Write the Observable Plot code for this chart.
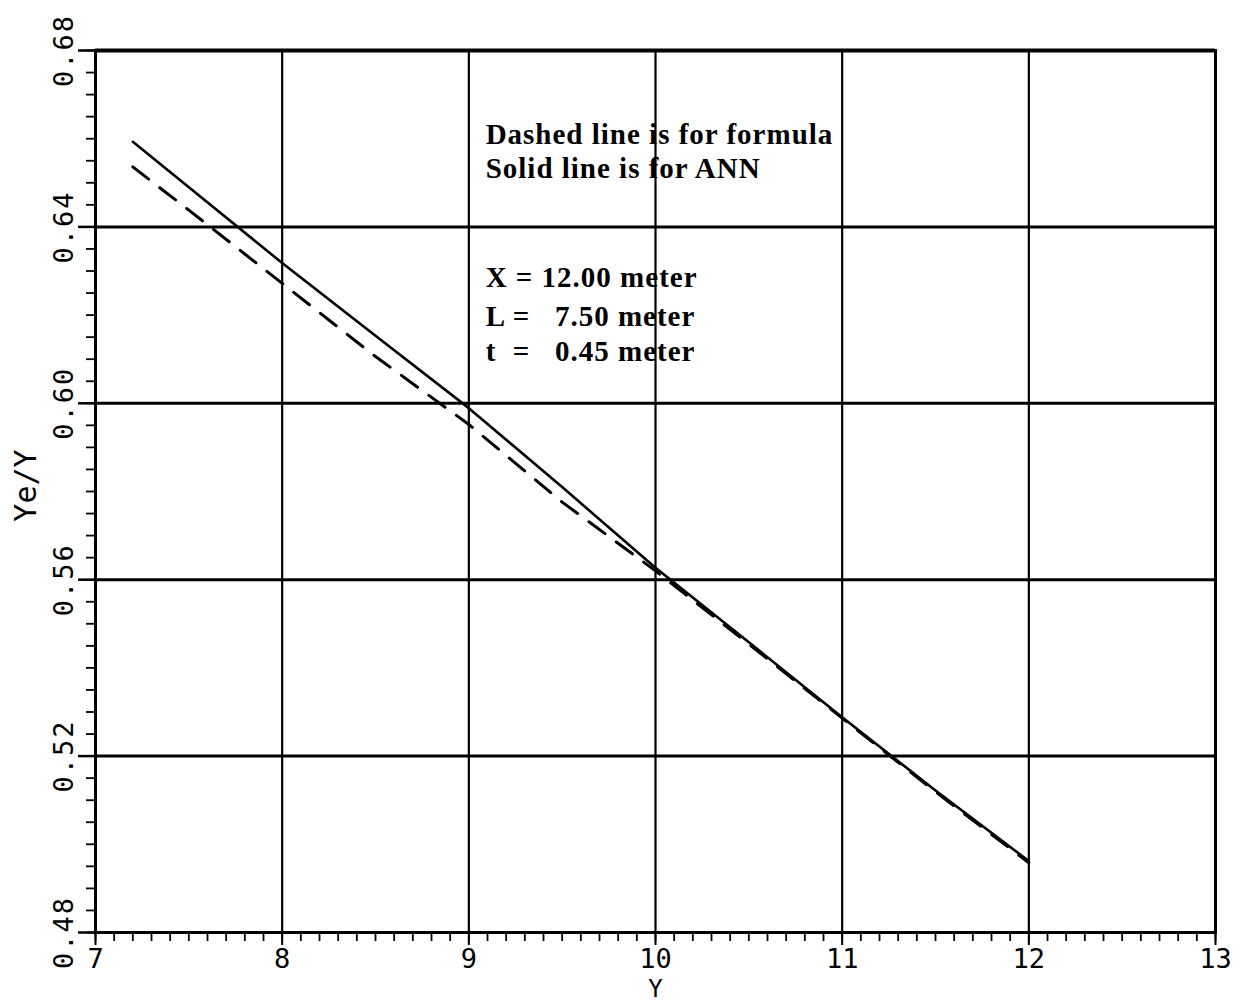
<!DOCTYPE html>
<html>
<head>
<meta charset="utf-8">
<script src="https://cdn.jsdelivr.net/npm/d3@7"></script>
<script src="https://cdn.jsdelivr.net/npm/@observablehq/plot@0.6"></script>
<style>
  html, body { margin: 0; padding: 0; background: #fff; }
  svg text { white-space: pre; }
</style>
</head>
<body>
<div id="chart"></div>
<script>
// ---- data ----
const yValues = [7.2, 7.5, 8, 8.5, 9, 9.5, 10, 10.5, 11, 11.5, 12];
const annRatio = [0.6593, 0.6490, 0.6318, 0.6153, 0.5989, 0.5810, 0.5627, 0.5458, 0.5288, 0.5122, 0.4962];
const formulaRatio = [0.6536, 0.6438, 0.6272, 0.6106, 0.5952, 0.5776, 0.5620, 0.5454, 0.5286, 0.5119, 0.4958];

const xTicks = [7, 8, 9, 10, 11, 12, 13];
const xTickLabels = ["7", "8", "9", "10", "11", "12", "13"];
const yTicks = [0.48, 0.52, 0.56, 0.60, 0.64, 0.68];
const yTickLabels = ["0.48", "0.52", "0.56", "0.60", "0.64", "0.68"];
const xGrid = [8, 9, 10, 11, 12];
const yGrid = [0.52, 0.56, 0.60, 0.64];
const xMinor = d3.ticks(7, 13, 60);
const yMinor = d3.ticks(0.48, 0.68, 50);

const xTitle = "Y";
const yTitle = "Ye/Y";
const noteLines = ["Dashed line is for formula", "Solid line is for ANN", "X = 12.00 meter", "L =   7.50 meter", "t  =   0.45 meter"];
const noteY = [0.6589, 0.6510, 0.6263, 0.6176, 0.6097];
const noteX = 9.09;

const ann = yValues.map((y, i) => ({x: y, r: annRatio[i]}));
const formula = yValues.map((y, i) => ({x: y, r: formulaRatio[i]}));
const notes = noteLines.map((t, i) => ({t, x: noteX, y: noteY[i]}));

const tickFont = "DejaVu Sans Mono";

const chart = Plot.plot({
  width: 1245,
  height: 1005,
  marginLeft: 95,
  marginRight: 30,
  marginTop: 50,
  marginBottom: 73,
  style: {background: "#fff", color: "#000", fontFamily: tickFont},
  x: {domain: [7, 13], axis: null},
  y: {domain: [0.48, 0.68], axis: null},
  marks: [
    // grid
    Plot.ruleX(xGrid, {x: d => d, stroke: "#000", strokeWidth: 2.2}),
    Plot.ruleY(yGrid, {y: d => d, stroke: "#000", strokeWidth: 3}),
    // minor ticks
    Plot.axisX({anchor: "bottom", ticks: xMinor, tickSize: 9, tickFormat: () => "", label: null, stroke: "#000", strokeWidth: 1.8}),
    Plot.axisY({anchor: "left", ticks: yMinor, tickSize: 9, tickFormat: () => "", label: null, stroke: "#000", strokeWidth: 1.8}),
    // major ticks
    Plot.axisX({anchor: "bottom", ticks: xTicks, tickSize: 13, tickFormat: () => "", label: null, stroke: "#000", strokeWidth: 2}),
    Plot.axisY({anchor: "left", ticks: yTicks, tickSize: 17, tickFormat: () => "", label: null, stroke: "#000", strokeWidth: 2.5}),
    // frame
    Plot.frame({stroke: "#000", strokeWidth: 3}),
    Plot.ruleY([0.68], {stroke: "#000", strokeWidth: 4}),
    // tick labels
    Plot.text(xTicks, {x: d => d, text: (d, i) => xTickLabels[i], frameAnchor: "bottom", dy: 27, fontSize: 27, fill: "#000", fontFamily: tickFont, textAnchor: "middle", lineAnchor: "middle"}),
    Plot.text(yTicks, {y: d => d, text: (d, i) => yTickLabels[i], frameAnchor: "left", dx: -31, rotate: -90, fontSize: 27, fill: "#000", fontFamily: tickFont, textAnchor: "middle", lineAnchor: "middle"}),
    // axis titles
    Plot.text([xTitle], {text: d => d, frameAnchor: "bottom", dy: 57, fontSize: 24, fill: "#000", fontFamily: tickFont, textAnchor: "middle", lineAnchor: "middle"}),
    Plot.text([yTitle], {text: d => d, frameAnchor: "left", dx: -69, dy: -6, rotate: -90, fontSize: 30, fill: "#000", fontFamily: tickFont, textAnchor: "middle", lineAnchor: "middle"}),
    // lines
    Plot.line(formula, {x: "x", y: "r", stroke: "#000", strokeWidth: 3, strokeDasharray: "20,14"}),
    Plot.line(ann, {x: "x", y: "r", stroke: "#000", strokeWidth: 2.6}),
    // annotations
    Plot.text(notes, {x: "x", y: "y", text: "t", textAnchor: "start", lineAnchor: "bottom", fontSize: 29, fontWeight: "bold", fontFamily: "Liberation Serif", fill: "#000"})
  ]
});

// letter spacing (not a Plot option): widen the annotation and y tick texts
d3.select(chart).selectAll("text").each(function () {
  const t = this.textContent;
  if (noteLines.includes(t)) this.setAttribute("letter-spacing", "1");
  else if (yTickLabels.includes(t)) this.setAttribute("letter-spacing", "2");
});

document.getElementById("chart").appendChild(chart);
</script>
</body>
</html>
